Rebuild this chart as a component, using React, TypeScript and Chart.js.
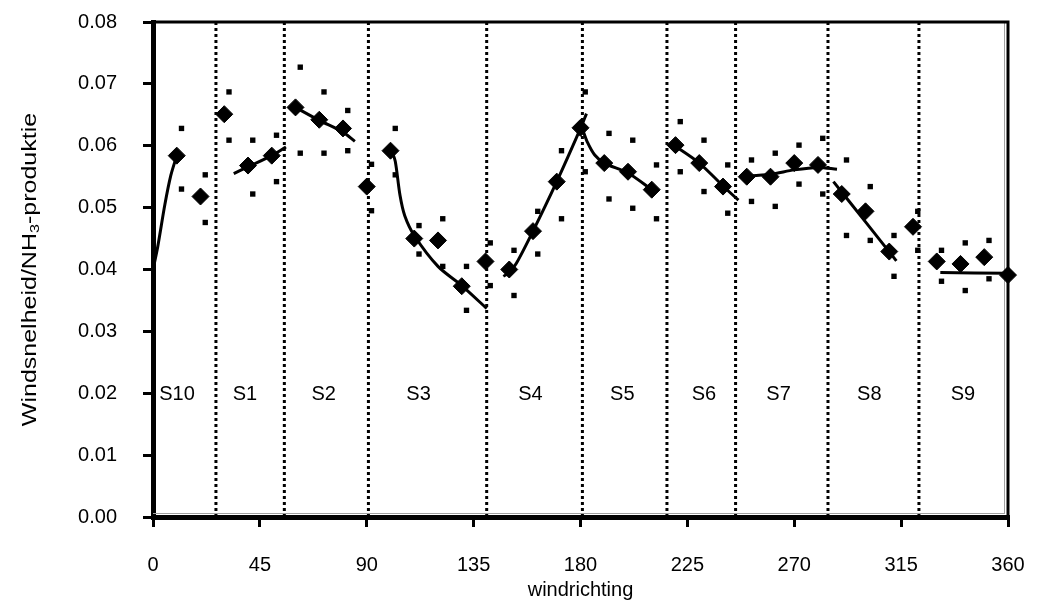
import React, { useEffect, useRef } from "react";
import { Chart, registerables } from "chart.js";

Chart.register(...registerables);

// ---- data ----
const directions = [10, 20, 30, 40, 50, 60, 70, 80, 90, 100, 110, 120, 130, 140, 150, 160, 170, 180,
  190, 200, 210, 220, 230, 240, 250, 260, 270, 280, 290, 300, 310, 320, 330, 340, 350, 360];

const meanValues = [0.0584, 0.0518, 0.0651, 0.0568, 0.0584, 0.0662, 0.0642, 0.0628, 0.0534,
  0.0592, 0.0450, 0.0447, 0.0373, 0.0413, 0.0400, 0.0462, 0.0542, 0.0629,
  0.0572, 0.0558, 0.0529, 0.0601, 0.0572, 0.0534, 0.0550, 0.0550, 0.0572,
  0.0569, 0.0522, 0.0494, 0.0429, 0.0469, 0.0413, 0.0409, 0.0420, 0.0391];

// the small squares sit slightly to the right of each mean
const boundDirections = [12, 22, 32, 42, 52, 62, 72, 82, 92, 102, 112, 122, 132, 142, 152, 162, 172, 182,
  192, 202, 212, 222, 232, 242, 252, 262, 272, 282, 292, 302, 312, 322, 332, 342, 352, 362];

const upperValues = [0.0628, 0.0553, 0.0687, 0.0609, 0.0617, 0.0727, 0.0687, 0.0657, 0.0570,
  0.0628, 0.0471, 0.0482, 0.0405, 0.0443, 0.0431, 0.0494, 0.0592, 0.0687,
  0.0620, 0.0609, 0.0569, 0.0639, 0.0609, 0.0569, 0.0577, 0.0588, 0.0601,
  0.0612, 0.0577, 0.0534, 0.0455, 0.0494, 0.0431, 0.0443, 0.0447, 0.0428];

const lowerValues = [0.0530, 0.0476, 0.0609, 0.0522, 0.0542, 0.0588, 0.0588, 0.0592, 0.0495,
  0.0553, 0.0425, 0.0405, 0.0334, 0.0374, 0.0358, 0.0425, 0.0482, 0.0558,
  0.0514, 0.0499, 0.0482, 0.0558, 0.0526, 0.0491, 0.0510, 0.0502, 0.0538,
  0.0522, 0.0455, 0.0447, 0.0389, 0.0431, 0.0381, 0.0366, 0.0385, 0.0350];

// fitted curves per sector: [direction, value]
const curveS10: [number, number][] = [[0, 0.0400], [2, 0.0437], [5, 0.0505], [7.5, 0.0552], [10, 0.0584]];
const curveS1: [number, number][] = [[34, 0.0555], [40, 0.0566], [50, 0.0584], [56, 0.0598]];
const curveS2: [number, number][] = [[59, 0.0664], [70, 0.0641], [80, 0.0622], [85, 0.0607]];
const curveS3: [number, number][] = [[100.5, 0.0592], [102, 0.0575], [104, 0.0520], [106, 0.0487],
  [110, 0.0455], [120, 0.0405], [130, 0.0374], [140.5, 0.0337]];
const curveS4: [number, number][] = [[147.5, 0.0389], [150, 0.0395], [153, 0.0410], [160, 0.0462],
  [170, 0.0542], [180, 0.0628], [182.5, 0.0652]];
const curveS5: [number, number][] = [[181, 0.0625], [183, 0.0605], [186, 0.0585], [190, 0.0572],
  [200, 0.0556], [210, 0.0529]];
const curveS6: [number, number][] = [[218, 0.0604], [230, 0.0572], [240, 0.0535], [246.5, 0.0512]];
const curveS7: [number, number][] = [[247, 0.0550], [260, 0.0554], [270, 0.0561], [280, 0.0565], [288, 0.0562]];
const curveS8: [number, number][] = [[286.5, 0.0542], [300, 0.0477], [313, 0.0414]];
const curveS9: [number, number][] = [[331.5, 0.0395], [360, 0.0394]];

const sectorCurves = [curveS10, curveS1, curveS2, curveS3, curveS4, curveS5, curveS6, curveS7, curveS8, curveS9];

// sector boundaries (dotted lines)
const sectorBounds = [26.5, 55.3, 90.7, 140.5, 180.8, 216.4, 245.3, 284.2, 322.5];

// sector names and where they are written
const sectorNames = ["S10", "S1", "S2", "S3", "S4", "S5", "S6", "S7", "S8", "S9"];
const sectorLabelDirs = [10.1, 38.7, 71.9, 111.8, 158.9, 197.6, 232, 263.4, 301.6, 341];
const sectorLabelLevel = 0.0198;

const xTitle = "windrichting";
const yTitleParts = ["Windsnelheid/NH", "3", "-produktie"];

const FONT = "'Liberation Sans', Arial, sans-serif";

export default function App() {
  const ref = useRef<HTMLCanvasElement | null>(null);

  useEffect(() => {
    document.body.style.margin = "0";
    const canvas = ref.current;
    if (!canvas) return;

    const datasets: any[] = [];

    datasets.push({
      label: "mean",
      data: directions.map((d, i) => ({ x: d, y: meanValues[i] })),
      pointStyle: "rectRot",
      pointRadius: 8.5,
      pointBackgroundColor: "#000",
      pointBorderColor: "#000",
      pointBorderWidth: 1,
      showLine: false,
      clip: false,
      order: 0,
    });
    datasets.push({
      label: "upper",
      data: boundDirections.map((d, i) => ({ x: d, y: upperValues[i] })),
      pointStyle: "rect",
      pointRadius: 3.8,
      pointBackgroundColor: "#000",
      pointBorderColor: "#000",
      pointBorderWidth: 0,
      showLine: false,
      clip: false,
      order: 1,
    });
    datasets.push({
      label: "lower",
      data: boundDirections.map((d, i) => ({ x: d, y: lowerValues[i] })),
      pointStyle: "rect",
      pointRadius: 3.8,
      pointBackgroundColor: "#000",
      pointBorderColor: "#000",
      pointBorderWidth: 0,
      showLine: false,
      clip: false,
      order: 1,
    });
    sectorCurves.forEach((c, k) => {
      datasets.push({
        label: "curve" + k,
        data: c.map(([x, y]) => ({ x, y })),
        showLine: true,
        borderColor: "#000",
        borderWidth: 3,
        pointRadius: 0,
        tension: 0.3,
        fill: false,
        clip: false,
        order: 2,
      });
    });
    sectorBounds.forEach((b, k) => {
      datasets.push({
        label: "bound" + k,
        data: [{ x: b, y: 0 }, { x: b, y: 0.08 }],
        showLine: true,
        borderColor: "#000",
        borderWidth: 3,
        borderDash: [3, 3],
        borderCapStyle: "butt",
        pointRadius: 0,
        tension: 0,
        order: 3,
      });
    });

    const decor = {
      id: "decor",
      beforeDatasetsDraw(chart: any) {
        const { ctx, chartArea } = chart;
        ctx.save();
        // thin grey inner frame
        ctx.strokeStyle = "#a0a0a0";
        ctx.lineWidth = 1;
        ctx.beginPath();
        ctx.moveTo(chartArea.left, chartArea.bottom - 3.5);
        ctx.lineTo(chartArea.right - 3, chartArea.bottom - 3.5);
        ctx.moveTo(chartArea.right - 3.5, chartArea.top);
        ctx.lineTo(chartArea.right - 3.5, chartArea.bottom - 3);
        ctx.stroke();
        // black frame top and right
        ctx.strokeStyle = "#000";
        ctx.lineWidth = 3;
        ctx.beginPath();
        ctx.moveTo(chartArea.left, chartArea.top);
        ctx.lineTo(chartArea.right, chartArea.top);
        ctx.lineTo(chartArea.right, chartArea.bottom);
        ctx.stroke();
        ctx.restore();
      },
      afterDraw(chart: any) {
        const { ctx, chartArea, scales } = chart;
        const xs = scales.x;
        const ys = scales.y;
        ctx.save();
        ctx.fillStyle = "#000";
        // sector labels
        ctx.font = `20px ${FONT}`;
        ctx.textAlign = "center";
        ctx.textBaseline = "middle";
        sectorNames.forEach((n, i) => {
          ctx.fillText(n, xs.getPixelForValue(sectorLabelDirs[i]), ys.getPixelForValue(sectorLabelLevel));
        });
        // x title
        ctx.font = `20px ${FONT}`;
        ctx.fillText(xTitle, (chartArea.left + chartArea.right) / 2, chartArea.bottom + 73);
        // y title with subscript
        const cy = (chartArea.top + chartArea.bottom) / 2;
        ctx.translate(30, cy);
        ctx.rotate(-Math.PI / 2);
        ctx.scale(1.25, 1);
        const big = `20px ${FONT}`;
        const small = `13px ${FONT}`;
        ctx.font = big;
        const w1 = ctx.measureText(yTitleParts[0]).width;
        const w3 = ctx.measureText(yTitleParts[2]).width;
        ctx.font = small;
        const w2 = ctx.measureText(yTitleParts[1]).width;
        let px = -(w1 + w2 + w3) / 2;
        ctx.textAlign = "left";
        ctx.font = big;
        ctx.fillText(yTitleParts[0], px, 0);
        px += w1;
        ctx.font = small;
        ctx.fillText(yTitleParts[1], px, 5);
        px += w2;
        ctx.font = big;
        ctx.fillText(yTitleParts[2], px, 0);
        ctx.restore();
      },
    };

    const noPad = (s: any) => {
      s.paddingTop = 0;
      s.paddingBottom = 0;
      s.paddingLeft = 0;
      s.paddingRight = 0;
    };

    const chart = new Chart(canvas, {
      type: "scatter",
      data: { datasets },
      options: {
        animation: false,
        responsive: false,
        devicePixelRatio: 1,
        layout: { padding: { left: 0, right: 37, top: 22, bottom: 0 } },
        plugins: {
          legend: { display: false },
          tooltip: { enabled: false },
          title: { display: false },
        },
        scales: {
          x: {
            type: "linear",
            min: 0,
            max: 360,
            afterFit: (s: any) => { s.height = 95; noPad(s); },
            ticks: {
              stepSize: 45,
              color: "#000",
              font: { family: FONT, size: 20 },
              padding: 26,
              maxRotation: 0,
              autoSkip: false,
            },
            grid: {
              display: true,
              drawOnChartArea: false,
              drawTicks: true,
              tickLength: 10,
              color: "#000",
              lineWidth: 3,
            },
            border: { display: true, color: "#000", width: 5 },
          },
          y: {
            type: "linear",
            min: 0,
            max: 0.08,
            afterFit: (s: any) => { s.width = 153; noPad(s); },
            ticks: {
              stepSize: 0.01,
              color: "#000",
              font: { family: FONT, size: 20 },
              padding: 26,
              callback: (v: any) => Number(v).toFixed(2),
            },
            grid: {
              display: true,
              drawOnChartArea: false,
              drawTicks: true,
              tickLength: 10,
              color: "#000",
              lineWidth: 3,
            },
            border: { display: true, color: "#000", width: 5 },
          },
        },
      },
      plugins: [decor],
    } as any);

    return () => chart.destroy();
  }, []);

  return (
    <div style={{ width: 1045, height: 612, background: "#fff" }}>
      <canvas ref={ref} width={1045} height={612} style={{ display: "block" }} />
    </div>
  );
}
